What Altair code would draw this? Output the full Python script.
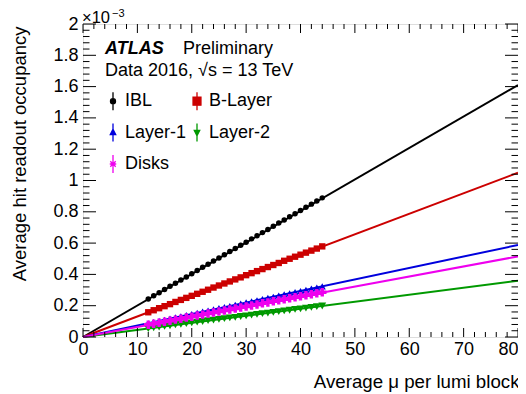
import altair as alt
import pandas as pd

# ---------------- data (occupancy in units of 1e-3) ----------------
series = ["IBL", "B-Layer", "Layer-1", "Layer-2", "Disks"]
colors = ["#000000", "#cc0000", "#0000dd", "#009900", "#ee00ee"]

mu = [12, 13, 14, 15, 16, 17, 18, 19, 20, 21, 22, 23, 24, 25, 26, 27, 28,
      29, 30, 31, 32, 33, 34, 35, 36, 37, 38, 39, 40, 41, 42, 43, 44]

ibl = [0.243, 0.263, 0.283, 0.303, 0.324, 0.344, 0.364, 0.384, 0.404, 0.425,
       0.445, 0.465, 0.485, 0.505, 0.526, 0.546, 0.566, 0.586, 0.606, 0.627,
       0.647, 0.667, 0.687, 0.707, 0.728, 0.748, 0.768, 0.788, 0.808, 0.829,
       0.849, 0.869, 0.889]
blayer = [0.158, 0.171, 0.184, 0.197, 0.210, 0.224, 0.237, 0.250, 0.263, 0.276,
          0.289, 0.302, 0.316, 0.329, 0.342, 0.355, 0.368, 0.381, 0.395, 0.408,
          0.421, 0.434, 0.447, 0.460, 0.473, 0.487, 0.500, 0.513, 0.526, 0.539,
          0.552, 0.565, 0.579]
layer1 = [0.088, 0.096, 0.103, 0.110, 0.118, 0.125, 0.132, 0.140, 0.147, 0.154,
          0.162, 0.169, 0.176, 0.184, 0.191, 0.198, 0.206, 0.213, 0.221, 0.228,
          0.235, 0.243, 0.250, 0.257, 0.265, 0.272, 0.279, 0.287, 0.294, 0.301,
          0.309, 0.316, 0.323]
layer2 = [0.054, 0.059, 0.063, 0.068, 0.072, 0.077, 0.081, 0.086, 0.090, 0.095,
          0.099, 0.104, 0.108, 0.113, 0.117, 0.122, 0.126, 0.131, 0.135, 0.140,
          0.144, 0.149, 0.153, 0.158, 0.162, 0.167, 0.171, 0.176, 0.180, 0.185,
          0.189, 0.194, 0.198]
disks = [0.078, 0.085, 0.091, 0.098, 0.104, 0.111, 0.117, 0.124, 0.130, 0.137,
         0.143, 0.150, 0.156, 0.163, 0.169, 0.176, 0.182, 0.189, 0.195, 0.202,
         0.208, 0.215, 0.221, 0.228, 0.234, 0.241, 0.247, 0.254, 0.260, 0.267,
         0.273, 0.280, 0.286]

# linear fits drawn over the full range: value at mu=0 and mu=80
fit_mu = [0, 80]
fit_start = [0.0, 0.0, 0.0, 0.0, 0.0]
fit_end = [1.61, 1.05, 0.588, 0.36, 0.515]

x_major = [0, 10, 20, 30, 40, 50, 60, 70, 80]
x_minor = [v for v in range(0, 81, 2) if v % 10 != 0]
y_major = [0, 0.2, 0.4, 0.6, 0.8, 1, 1.2, 1.4, 1.6, 1.8, 2]
y_minor = [round(i * 0.04, 2) for i in range(51) if i % 5 != 0]

# legend entries in column-major order so the grid reads row by row
legend_order = ["IBL", "Layer-1", "Disks", "B-Layer", "Layer-2"]

# ---------------- tables ----------------
pts = pd.DataFrame({
    "series": sum([[s] * len(mu) for s in series], []),
    "mu": mu * 5,
    "occ": ibl + blayer + layer1 + layer2 + disks,
})
fits = pd.DataFrame({
    "series": sum([[s, s] for s in series], []),
    "mu": fit_mu * 5,
    "occ": sum([[a, b] for a, b in zip(fit_start, fit_end)], []),
})
leg = pd.DataFrame({"series": series, "mu": [None] * 5, "occ": [None] * 5})

W, H = 435, 313
FONT = "Liberation Sans"

xs = alt.Scale(domain=[0, 80], nice=False, zero=False)
ys = alt.Scale(domain=[0, 2], nice=False, zero=False)
xaxis = alt.Axis(values=x_major, tickSize=0, domain=False, grid=False,
                 labelFontSize=18, labelFont=FONT, labelColor="black",
                 labelPadding=3, labelOverlap=False, labelFlush=False,
                 labelAlign={"condition": {"test": "datum.value >= 80", "value": "right"},
                             "value": "center"},
                 title="Average \u03bc per lumi block",
                 titleFont=FONT, titleFontSize=18.7, titleFontWeight="normal",
                 titleColor="black", titleAlign="right", titleAnchor="end",
                 titleBaseline="alphabetic", titleX=W + 1, titleY=50)
yaxis = alt.Axis(values=y_major, format="~g", tickSize=0, domain=False, grid=False,
                 labelFontSize=18, labelFont=FONT, labelColor="black",
                 labelPadding=5, labelOverlap=False, labelFlush=False,
                 title="Average hit readout occupancy",
                 titleFont=FONT, titleFontSize=18.5, titleFontWeight="normal",
                 titleColor="black", titleAngle=-90, titleAlign="right",
                 titleAnchor="end", titleBaseline="alphabetic",
                 titleX=-58, titleY=2)


def X(field):
    return alt.X(field, scale=xs, axis=xaxis, title="Average \u03bc per lumi block")


def Y(field):
    return alt.Y(field, scale=ys, axis=yaxis, title="Average hit readout occupancy")


col_scale = alt.Scale(domain=series, range=colors)

lines = alt.Chart(fits).mark_line(strokeWidth=2).encode(
    x=X("mu:Q"),
    y=Y("occ:Q"),
    color=alt.Color("series:N", scale=col_scale, legend=None),
    detail="series:N",
)

points = alt.Chart(pts).mark_point(filled=True, opacity=1).encode(
    x=X("mu:Q"),
    y=Y("occ:Q"),
    color=alt.Color("series:N", scale=col_scale, legend=None),
    shape=alt.Shape("series:N", scale=alt.Scale(
        domain=series,
        range=["circle", "square", "triangle-up", "triangle-down", "cross"]),
        legend=None),
    size=alt.Size("series:N", scale=alt.Scale(domain=series,
                                              range=[30, 72, 24, 24, 24]),
                  legend=None),
)

sym_path = {
    "IBL": "M0,-1L0,1M0.28,0A0.28,0.28,0,1,1,-0.28,0A0.28,0.28,0,1,1,0.28,0Z",
    "B-Layer": "M0,-1L0,1M-0.44,-0.44L0.44,-0.44L0.44,0.44L-0.44,0.44Z",
    "Layer-1": "M0,-1L0,1M0,-0.36L0.3,0.22L-0.3,0.22Z",
    "Layer-2": "M0,-1L0,1M0,0.36L0.3,-0.22L-0.3,-0.22Z",
    "Disks": "M0,-1L0,1M-0.3,-0.3L0.3,0.3M-0.3,0.3L0.3,-0.3M-0.36,0L0.36,0",
}
color_of = dict(zip(series, colors))
leg_colors = [color_of[s] for s in legend_order]
leg_paths = [sym_path[s] for s in legend_order]

legend_cfg = alt.Legend(orient="none", legendX=20, legendY=67, columns=2,
                        title=None, padding=0, rowPadding=7.5, columnPadding=-6,
                        labelFontSize=18, labelFont=FONT, labelColor="black",
                        labelOffset=2, symbolSize=324, symbolStrokeWidth=1.3,
                        symbolOpacity=1, labelLimit=200)
legend_layer = alt.Chart(leg).mark_point(filled=True, strokeWidth=1.3, opacity=1).encode(
    x=X("mu:Q"),
    y=Y("occ:Q"),
    fill=alt.Fill("series:N", scale=alt.Scale(domain=legend_order, range=leg_colors),
                  legend=legend_cfg),
    stroke=alt.Stroke("series:N", scale=alt.Scale(domain=legend_order, range=leg_colors),
                      legend=legend_cfg),
    shape=alt.Shape("series:N", scale=alt.Scale(domain=legend_order, range=leg_paths),
                    legend=legend_cfg),
)

# inward ROOT-style ticks on all four sides
def xticks(vals, length):
    d = pd.DataFrame({"mu": vals})
    b = alt.Chart(d).mark_rule(color="black", strokeWidth=1).encode(
        x=X("mu:Q"), y=alt.value(H), y2=alt.value(H - length))
    t = alt.Chart(d).mark_rule(color="black", strokeWidth=1).encode(
        x=X("mu:Q"), y=alt.value(0), y2=alt.value(length))
    return [b, t]

def yticks(vals, length):
    d = pd.DataFrame({"occ": vals})
    l = alt.Chart(d).mark_rule(color="black", strokeWidth=1).encode(
        y=Y("occ:Q"), x=alt.value(0), x2=alt.value(length))
    r = alt.Chart(d).mark_rule(color="black", strokeWidth=1).encode(
        y=Y("occ:Q"), x=alt.value(W), x2=alt.value(W - length))
    return [l, r]

ticks = xticks(x_major, 9) + xticks(x_minor, 5) + yticks(y_major, 13) + yticks(y_minor, 6.5)

def label(text, x, y, size=18, weight="normal", style="normal", align="left"):
    return alt.Chart(pd.DataFrame({"a": [0]})).mark_text(
        text=text, font=FONT, fontSize=size, fontWeight=weight, fontStyle=style,
        align=align, baseline="alphabetic", color="black"
    ).encode(x=alt.value(x), y=alt.value(y))

texts = [
    label("ATLAS", 22, 29.5, weight="bold", style="italic"),
    label("Preliminary", 100, 29.5),
    label("Data 2016, \u221as = 13 TeV", 22, 51.5),
    label("\u00d710", -1, -1, size=16.5),
    label("\u22123", 29, -7, size=11),
]

chart = alt.layer(lines, points, legend_layer, *ticks, *texts).resolve_scale(
    shape="independent", color="independent", size="independent",
    fill="independent", stroke="independent"
).properties(
    width=W, height=H,
    padding={"left": 75, "top": 16, "right": 0, "bottom": 57},
    autosize=alt.AutoSizeParams(type="none"),
).configure_view(stroke="black", strokeWidth=1).configure_axis(
    labelOverlap=False, labelFlush=False
).configure(background="white")

chart.save("out.html", embed_options={"renderer": "svg", "actions": False})
